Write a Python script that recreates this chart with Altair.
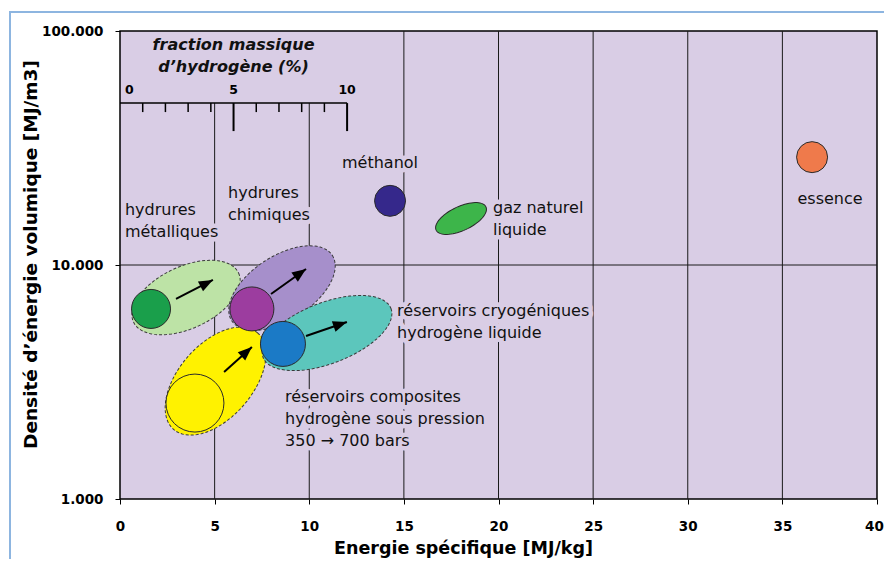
import math
import altair as alt
import pandas as pd

# ---------------- data ----------------
# x: specific energy [MJ/kg], y: volumetric energy density [MJ/m3]

# filled discs (current technology / fuels)
bubble_names = ["hydrures métalliques", "hydrures chimiques", "réservoirs cryogéniques",
                "réservoirs composites", "méthanol", "essence"]
bubble_energy = [1.64, 6.97, 8.61, 3.96, 14.27, 36.57]
bubble_density = [6.49, 6.49, 4.60, 2.57, 18.8, 28.9]

# zones (ellipses: range / targets)
zone_names = ["hydrures métalliques", "hydrures chimiques", "réservoirs composites",
              "réservoirs cryogéniques", "gaz naturel liquide"]
zone_energy = [3.49, 8.56, 5.05, 10.94, 18.02]
zone_density = [7.26, 7.97, 3.19, 5.12, 15.8]

# progress arrows (start -> end)
arrow_names = ["hydrures métalliques", "hydrures chimiques", "réservoirs cryogéniques",
               "réservoirs composites"]
arrow_energy_start = [2.96, 7.98, 9.83, 5.50]
arrow_density_start = [7.16, 7.52, 4.97, 3.49]
arrow_energy_end = [4.91, 9.83, 11.99, 6.97]
arrow_density_end = [8.63, 9.61, 5.71, 4.46]

# annotations (position of the first line of each text)
label_texts = ["hydrures\nmétalliques", "hydrures\nchimiques", "méthanol", "gaz naturel\nliquide",
               "essence", "réservoirs cryogéniques\nhydrogène liquide",
               "réservoirs composites\nhydrogène sous pression\n350 \u2192 700 bars"]
label_energy = [0.26, 5.71, 13.74, 19.71, 37.52, 14.64, 8.72]
label_density = [17.18, 20.31, 27.3, 17.52, 19.15, 6.36, 2.73]

# inset axis: hydrogen mass fraction (%)
fraction_ticks = [1, 2, 3, 4, 6, 7, 8, 9]
fraction_major = [5, 10]
fraction_labels = [0, 5, 10]
fraction_title = "fraction massique\nd\u2019hydrogène (%)"
H2_ENERGY = 120.0          # MJ/kg of hydrogen: f % -> f/100*120 MJ/kg
inset_density = 49.2       # level of the inset axis on the density scale
inset_title_density = 87.2

x_ticks = [0, 5, 10, 15, 20, 25, 30, 35, 40]
y_ticks = [1, 10, 100]
grid_x = [5, 10, 15, 20, 25, 30, 35]

# ---------------- styles ----------------
FONT = "DejaVu Sans"
BG = "#D9CDE5"
bubble_colors = ["#1A9F4B", "#9C3D9F", "#1B7AC6", "#FFF200", "#35288B", "#EF7A4B"]
bubble_diam = [39, 44, 45, 58, 31, 31]
zone_colors = ["#BDE3A6", "#A68FCB", "#FFF200", "#5CC6BC", "#3DB54A"]
zone_semi_major = [58, 60, 64, 68.5, 27.5]
zone_semi_minor = [31, 32, 37, 30.5, 12]
zone_tilt = [25, 33, 49, 21, 25]
label_align = ["left", "left", "center", "left", "center", "left", "left"]

W, H = 757, 468
PX_X = W / 40.0
PX_Y = H / 2.0

XS = alt.Scale(domain=[0, 40], nice=False, zero=False)
YS = alt.Scale(type="log", domain=[1, 100], nice=False)
XA = alt.Axis(values=x_ticks, title="Energie spécifique  [MJ/kg]", titleX=343, titleY=49,
              titleBaseline="middle", titleAlign="center", labelPadding=15, labelFlush=False,
              labelOffset={"condition": {"test": "datum.value == 40", "value": -3}, "value": 0})
YA = alt.Axis(values=y_ticks, format=".3f", title="Densité d\u2019énergie volumique [MJ/m3]",
              titleX=-90, titleY=223, titleAngle=-90, titleAlign="center", titleFontSize=18.5,
              titleBaseline="middle", labelPadding=12, labelFlush=False)


def X(f):
    return alt.X(f, type="quantitative", scale=XS, axis=XA)


def Y(f):
    return alt.Y(f, type="quantitative", scale=YS, axis=YA)


def ellipse_path(ratio, n=72):
    pts = []
    for i in range(n):
        t = 2 * math.pi * i / n
        pts.append(f"{math.cos(t):.4f} {ratio * math.sin(t):.4f}")
    return "M " + " L ".join(pts) + " Z"


# ---------------- tables ----------------
zones = pd.DataFrame({
    "name": zone_names, "x": zone_energy, "y": zone_density, "color": zone_colors,
    "path": [ellipse_path(b / a) for a, b in zip(zone_semi_major, zone_semi_minor)],
    "size": [(2 * a) ** 2 for a in zone_semi_major],
    "angle": [(360 - t) % 360 for t in zone_tilt],
})
bubbles = pd.DataFrame({"name": bubble_names, "x": bubble_energy, "y": bubble_density,
                        "color": bubble_colors, "size": [d * d for d in bubble_diam]})
arrows = pd.DataFrame({"name": arrow_names, "x": arrow_energy_start, "y": arrow_density_start,
                       "x2": arrow_energy_end, "y2": arrow_density_end})
arrows["angle"] = [
    (math.degrees(math.atan2((x1 - x0) * PX_X, (math.log10(y1) - math.log10(y0)) * PX_Y)) + 360) % 360
    for x0, y0, x1, y1 in zip(arrow_energy_start, arrow_density_start, arrow_energy_end, arrow_density_end)
]
labels = pd.DataFrame({"text": label_texts, "x": label_energy, "y": label_density, "align": label_align})
grid_v = pd.DataFrame({"x": grid_x, "y": [1] * len(grid_x),
                       "y2": [inset_density if g <= 10 else 100 for g in grid_x]})
grid_h = pd.DataFrame({"x": [0], "x2": [40], "y": [10]})
inset_line = pd.DataFrame({"x": [0], "x2": [fraction_major[-1] / 100 * H2_ENERGY], "y": [inset_density]})
inset_minor = pd.DataFrame({"x": [f / 100 * H2_ENERGY for f in fraction_ticks], "y": inset_density})
inset_major = pd.DataFrame({"x": [f / 100 * H2_ENERGY for f in fraction_major], "y": inset_density})
inset_lab = pd.DataFrame({"x": [f / 100 * H2_ENERGY for f in fraction_labels],
                          "y": inset_density, "t": [str(f) for f in fraction_labels]})
inset_title = pd.DataFrame({"x": [5 / 100 * H2_ENERGY], "y": [inset_title_density], "t": [fraction_title]})

# ---------------- layers ----------------
frame_left = alt.Chart(pd.DataFrame({"k": [0]})).mark_rule(color="#8DB5E0", strokeWidth=2).encode(
    x=alt.value(-110), y=alt.value(-19), y2=alt.value(600))
frame_top = alt.Chart(pd.DataFrame({"k": [0]})).mark_rule(color="#8DB5E0", strokeWidth=2).encode(
    x=alt.value(-111), x2=alt.value(900), y=alt.value(-19))

gv = alt.Chart(grid_v).mark_rule(color="#1a1a1a", strokeWidth=1).encode(X("x"), Y("y"), y2="y2")
gh = alt.Chart(grid_h).mark_rule(color="#1a1a1a", strokeWidth=1).encode(X("x"), Y("y"), x2="x2")


def text_layer(df, align, halo):
    kw = dict(font=FONT, fontSize=16, lineBreak="\n", lineHeight=22, baseline="middle", align=align)
    if halo:
        m = alt.Chart(df).mark_text(color=BG, stroke=BG, strokeWidth=9, strokeJoin="round", **kw)
    else:
        m = alt.Chart(df).mark_text(color="#111111", **kw)
    return m.encode(X("x"), Y("y"), text="text:N")


lab_left = labels[labels["align"] == "left"]
lab_center = labels[labels["align"] == "center"]
halos = [text_layer(lab_left, "left", True), text_layer(lab_center, "center", True)]
texts = [text_layer(lab_left, "left", False), text_layer(lab_center, "center", False)]

dashed_zones = alt.Chart(zones.iloc[:4]).mark_point(
    filled=True, opacity=1, stroke="#3a3a3a", strokeWidth=1, strokeDash=[3, 2]).encode(
    X("x"), Y("y"), shape=alt.Shape("path:N", scale=None), size=alt.Size("size:Q", scale=None),
    angle=alt.Angle("angle:Q", scale=None), fill=alt.Fill("color:N", scale=None))
gnl_zone = alt.Chart(zones.iloc[4:]).mark_point(
    filled=True, opacity=1, stroke="#2a2a2a", strokeWidth=1).encode(
    X("x"), Y("y"), shape=alt.Shape("path:N", scale=None), size=alt.Size("size:Q", scale=None),
    angle=alt.Angle("angle:Q", scale=None), fill=alt.Fill("color:N", scale=None))

discs = alt.Chart(bubbles).mark_point(
    shape="circle", filled=True, opacity=1, stroke="#2a2a2a", strokeWidth=1).encode(
    X("x"), Y("y"), size=alt.Size("size:Q", scale=None), fill=alt.Fill("color:N", scale=None))

arrow_shaft = alt.Chart(arrows).mark_rule(color="black", strokeWidth=2).encode(
    X("x"), Y("y"), x2="x2", y2="y2")
arrow_head = alt.Chart(arrows).mark_point(
    shape="M 0 0 L 0.8 2 L -0.8 2 Z", size=196, filled=True, opacity=1, color="black").encode(
    X("x2"), Y("y2"), angle=alt.Angle("angle:Q", scale=None))

inset_axis = alt.Chart(inset_line).mark_rule(color="black", strokeWidth=1.5).encode(
    X("x"), Y("y"), x2="x2")
inset_t1 = alt.Chart(inset_minor).mark_rule(color="black", strokeWidth=1.5, y2Offset=9).encode(
    X("x"), Y("y"), y2="y")
inset_t2 = alt.Chart(inset_major).mark_rule(color="black", strokeWidth=2, y2Offset=28).encode(
    X("x"), Y("y"), y2="y")
inset_l0 = alt.Chart(inset_lab.iloc[:1]).mark_text(
    font=FONT, fontSize=12.5, fontWeight="bold", align="left", dx=5, dy=-13, baseline="middle",
    color="black").encode(X("x"), Y("y"), text="t:N")
inset_l = alt.Chart(inset_lab.iloc[1:]).mark_text(
    font=FONT, fontSize=12.5, fontWeight="bold", align="center", dy=-13, baseline="middle",
    color="black").encode(X("x"), Y("y"), text="t:N")
inset_tt = alt.Chart(inset_title).mark_text(
    font=FONT, fontSize=16, fontWeight="bold", fontStyle="italic", align="center", baseline="middle",
    lineBreak="\n", lineHeight=22, color="#111111").encode(X("x"), Y("y"), text="t:N")

chart = alt.layer(
    gv, gh, *halos, dashed_zones, gnl_zone, discs, arrow_shaft, arrow_head, *texts,
    inset_axis, inset_t1, inset_t2, inset_l0, inset_l, inset_tt, frame_left, frame_top
).properties(
    width=W, height=H, autosize=alt.AutoSizeParams(type="none"),
    padding={"left": 112, "top": 23, "right": 7, "bottom": 60}, background="white"
).configure_view(
    fill=BG, stroke="black", strokeWidth=1.5
).configure_axis(
    grid=False, domain=False, ticks=True, tickSize=5, tickColor="black", tickWidth=1,
    labelFont=FONT, labelFontSize=13.5, labelFontWeight="bold", labelColor="black",
    titleFont=FONT, titleFontSize=17.5, titleFontWeight="bold", titleColor="black"
)

chart.save("out.html", embed_options={"renderer": "svg", "actions": False})
